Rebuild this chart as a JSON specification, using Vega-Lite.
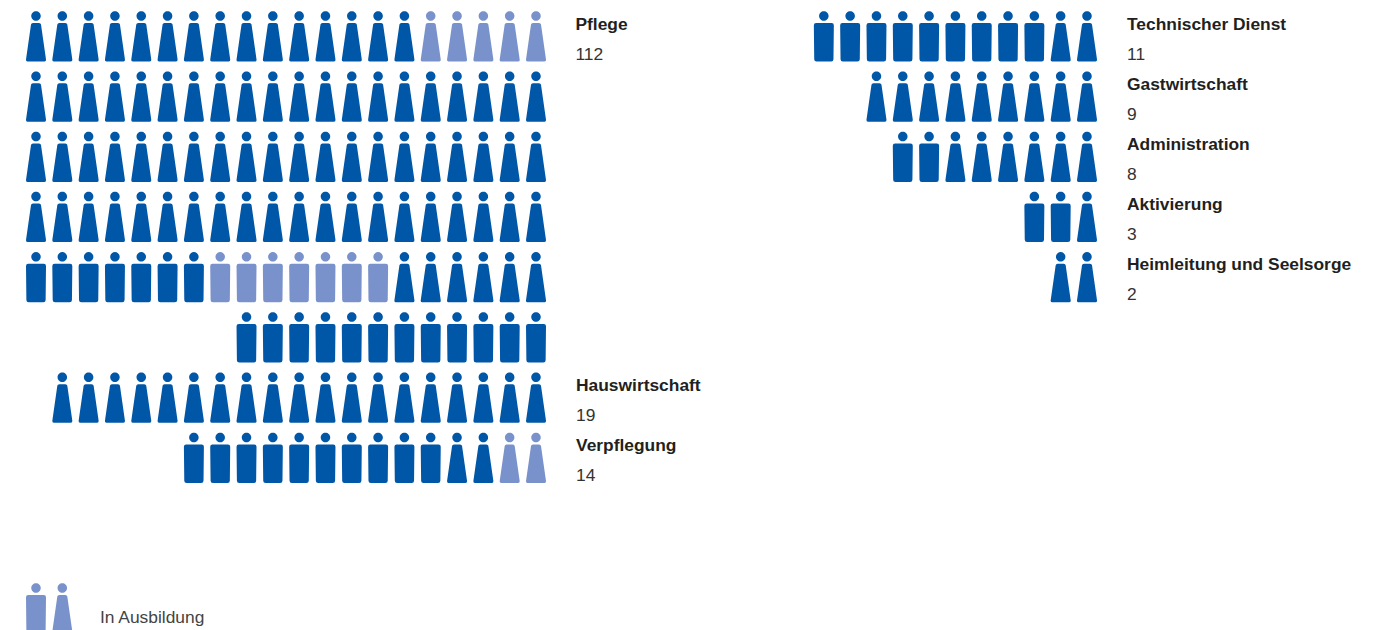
{"$schema":"https://vega.github.io/schema/vega-lite/v6.json","width":1389,"height":630,"padding":0,"autosize":{"type":"none"},"background":"white","config":{"view":{"stroke":null}},
"datasets":{"left":[
{"row":1,"col":1,"type":"dress","status":"staff"},{"row":1,"col":2,"type":"dress","status":"staff"},{"row":1,"col":3,"type":"dress","status":"staff"},{"row":1,"col":4,"type":"dress","status":"staff"},{"row":1,"col":5,"type":"dress","status":"staff"},{"row":1,"col":6,"type":"dress","status":"staff"},{"row":1,"col":7,"type":"dress","status":"staff"},{"row":1,"col":8,"type":"dress","status":"staff"},{"row":1,"col":9,"type":"dress","status":"staff"},{"row":1,"col":10,"type":"dress","status":"staff"},{"row":1,"col":11,"type":"dress","status":"staff"},{"row":1,"col":12,"type":"dress","status":"staff"},{"row":1,"col":13,"type":"dress","status":"staff"},{"row":1,"col":14,"type":"dress","status":"staff"},{"row":1,"col":15,"type":"dress","status":"staff"},{"row":1,"col":16,"type":"dress","status":"trainee"},{"row":1,"col":17,"type":"dress","status":"trainee"},{"row":1,"col":18,"type":"dress","status":"trainee"},{"row":1,"col":19,"type":"dress","status":"trainee"},{"row":1,"col":20,"type":"dress","status":"trainee"},
{"row":2,"col":1,"type":"dress","status":"staff"},{"row":2,"col":2,"type":"dress","status":"staff"},{"row":2,"col":3,"type":"dress","status":"staff"},{"row":2,"col":4,"type":"dress","status":"staff"},{"row":2,"col":5,"type":"dress","status":"staff"},{"row":2,"col":6,"type":"dress","status":"staff"},{"row":2,"col":7,"type":"dress","status":"staff"},{"row":2,"col":8,"type":"dress","status":"staff"},{"row":2,"col":9,"type":"dress","status":"staff"},{"row":2,"col":10,"type":"dress","status":"staff"},{"row":2,"col":11,"type":"dress","status":"staff"},{"row":2,"col":12,"type":"dress","status":"staff"},{"row":2,"col":13,"type":"dress","status":"staff"},{"row":2,"col":14,"type":"dress","status":"staff"},{"row":2,"col":15,"type":"dress","status":"staff"},{"row":2,"col":16,"type":"dress","status":"staff"},{"row":2,"col":17,"type":"dress","status":"staff"},{"row":2,"col":18,"type":"dress","status":"staff"},{"row":2,"col":19,"type":"dress","status":"staff"},{"row":2,"col":20,"type":"dress","status":"staff"},
{"row":3,"col":1,"type":"dress","status":"staff"},{"row":3,"col":2,"type":"dress","status":"staff"},{"row":3,"col":3,"type":"dress","status":"staff"},{"row":3,"col":4,"type":"dress","status":"staff"},{"row":3,"col":5,"type":"dress","status":"staff"},{"row":3,"col":6,"type":"dress","status":"staff"},{"row":3,"col":7,"type":"dress","status":"staff"},{"row":3,"col":8,"type":"dress","status":"staff"},{"row":3,"col":9,"type":"dress","status":"staff"},{"row":3,"col":10,"type":"dress","status":"staff"},{"row":3,"col":11,"type":"dress","status":"staff"},{"row":3,"col":12,"type":"dress","status":"staff"},{"row":3,"col":13,"type":"dress","status":"staff"},{"row":3,"col":14,"type":"dress","status":"staff"},{"row":3,"col":15,"type":"dress","status":"staff"},{"row":3,"col":16,"type":"dress","status":"staff"},{"row":3,"col":17,"type":"dress","status":"staff"},{"row":3,"col":18,"type":"dress","status":"staff"},{"row":3,"col":19,"type":"dress","status":"staff"},{"row":3,"col":20,"type":"dress","status":"staff"},
{"row":4,"col":1,"type":"dress","status":"staff"},{"row":4,"col":2,"type":"dress","status":"staff"},{"row":4,"col":3,"type":"dress","status":"staff"},{"row":4,"col":4,"type":"dress","status":"staff"},{"row":4,"col":5,"type":"dress","status":"staff"},{"row":4,"col":6,"type":"dress","status":"staff"},{"row":4,"col":7,"type":"dress","status":"staff"},{"row":4,"col":8,"type":"dress","status":"staff"},{"row":4,"col":9,"type":"dress","status":"staff"},{"row":4,"col":10,"type":"dress","status":"staff"},{"row":4,"col":11,"type":"dress","status":"staff"},{"row":4,"col":12,"type":"dress","status":"staff"},{"row":4,"col":13,"type":"dress","status":"staff"},{"row":4,"col":14,"type":"dress","status":"staff"},{"row":4,"col":15,"type":"dress","status":"staff"},{"row":4,"col":16,"type":"dress","status":"staff"},{"row":4,"col":17,"type":"dress","status":"staff"},{"row":4,"col":18,"type":"dress","status":"staff"},{"row":4,"col":19,"type":"dress","status":"staff"},{"row":4,"col":20,"type":"dress","status":"staff"},
{"row":5,"col":1,"type":"suit","status":"staff"},{"row":5,"col":2,"type":"suit","status":"staff"},{"row":5,"col":3,"type":"suit","status":"staff"},{"row":5,"col":4,"type":"suit","status":"staff"},{"row":5,"col":5,"type":"suit","status":"staff"},{"row":5,"col":6,"type":"suit","status":"staff"},{"row":5,"col":7,"type":"suit","status":"staff"},{"row":5,"col":8,"type":"suit","status":"trainee"},{"row":5,"col":9,"type":"suit","status":"trainee"},{"row":5,"col":10,"type":"suit","status":"trainee"},{"row":5,"col":11,"type":"suit","status":"trainee"},{"row":5,"col":12,"type":"suit","status":"trainee"},{"row":5,"col":13,"type":"suit","status":"trainee"},{"row":5,"col":14,"type":"suit","status":"trainee"},{"row":5,"col":15,"type":"dress","status":"staff"},{"row":5,"col":16,"type":"dress","status":"staff"},{"row":5,"col":17,"type":"dress","status":"staff"},{"row":5,"col":18,"type":"dress","status":"staff"},{"row":5,"col":19,"type":"dress","status":"staff"},{"row":5,"col":20,"type":"dress","status":"staff"},
{"row":6,"col":9,"type":"suit","status":"staff"},{"row":6,"col":10,"type":"suit","status":"staff"},{"row":6,"col":11,"type":"suit","status":"staff"},{"row":6,"col":12,"type":"suit","status":"staff"},{"row":6,"col":13,"type":"suit","status":"staff"},{"row":6,"col":14,"type":"suit","status":"staff"},{"row":6,"col":15,"type":"suit","status":"staff"},{"row":6,"col":16,"type":"suit","status":"staff"},{"row":6,"col":17,"type":"suit","status":"staff"},{"row":6,"col":18,"type":"suit","status":"staff"},{"row":6,"col":19,"type":"suit","status":"staff"},{"row":6,"col":20,"type":"suit","status":"staff"},
{"row":7,"col":2,"type":"dress","status":"staff"},{"row":7,"col":3,"type":"dress","status":"staff"},{"row":7,"col":4,"type":"dress","status":"staff"},{"row":7,"col":5,"type":"dress","status":"staff"},{"row":7,"col":6,"type":"dress","status":"staff"},{"row":7,"col":7,"type":"dress","status":"staff"},{"row":7,"col":8,"type":"dress","status":"staff"},{"row":7,"col":9,"type":"dress","status":"staff"},{"row":7,"col":10,"type":"dress","status":"staff"},{"row":7,"col":11,"type":"dress","status":"staff"},{"row":7,"col":12,"type":"dress","status":"staff"},{"row":7,"col":13,"type":"dress","status":"staff"},{"row":7,"col":14,"type":"dress","status":"staff"},{"row":7,"col":15,"type":"dress","status":"staff"},{"row":7,"col":16,"type":"dress","status":"staff"},{"row":7,"col":17,"type":"dress","status":"staff"},{"row":7,"col":18,"type":"dress","status":"staff"},{"row":7,"col":19,"type":"dress","status":"staff"},{"row":7,"col":20,"type":"dress","status":"staff"},
{"row":8,"col":7,"type":"suit","status":"staff"},{"row":8,"col":8,"type":"suit","status":"staff"},{"row":8,"col":9,"type":"suit","status":"staff"},{"row":8,"col":10,"type":"suit","status":"staff"},{"row":8,"col":11,"type":"suit","status":"staff"},{"row":8,"col":12,"type":"suit","status":"staff"},{"row":8,"col":13,"type":"suit","status":"staff"},{"row":8,"col":14,"type":"suit","status":"staff"},{"row":8,"col":15,"type":"suit","status":"staff"},{"row":8,"col":16,"type":"suit","status":"staff"},{"row":8,"col":17,"type":"dress","status":"staff"},{"row":8,"col":18,"type":"dress","status":"staff"},{"row":8,"col":19,"type":"dress","status":"trainee"},{"row":8,"col":20,"type":"dress","status":"trainee"},
{"row":10.5,"col":1,"type":"suit","status":"trainee"},{"row":10.5,"col":2,"type":"dress","status":"trainee"}
],"right":[
{"row":1,"col":1,"type":"suit","status":"staff"},{"row":1,"col":2,"type":"suit","status":"staff"},{"row":1,"col":3,"type":"suit","status":"staff"},{"row":1,"col":4,"type":"suit","status":"staff"},{"row":1,"col":5,"type":"suit","status":"staff"},{"row":1,"col":6,"type":"suit","status":"staff"},{"row":1,"col":7,"type":"suit","status":"staff"},{"row":1,"col":8,"type":"suit","status":"staff"},{"row":1,"col":9,"type":"suit","status":"staff"},{"row":1,"col":10,"type":"dress","status":"staff"},{"row":1,"col":11,"type":"dress","status":"staff"},
{"row":2,"col":3,"type":"dress","status":"staff"},{"row":2,"col":4,"type":"dress","status":"staff"},{"row":2,"col":5,"type":"dress","status":"staff"},{"row":2,"col":6,"type":"dress","status":"staff"},{"row":2,"col":7,"type":"dress","status":"staff"},{"row":2,"col":8,"type":"dress","status":"staff"},{"row":2,"col":9,"type":"dress","status":"staff"},{"row":2,"col":10,"type":"dress","status":"staff"},{"row":2,"col":11,"type":"dress","status":"staff"},
{"row":3,"col":4,"type":"suit","status":"staff"},{"row":3,"col":5,"type":"suit","status":"staff"},{"row":3,"col":6,"type":"dress","status":"staff"},{"row":3,"col":7,"type":"dress","status":"staff"},{"row":3,"col":8,"type":"dress","status":"staff"},{"row":3,"col":9,"type":"dress","status":"staff"},{"row":3,"col":10,"type":"dress","status":"staff"},{"row":3,"col":11,"type":"dress","status":"staff"},
{"row":4,"col":9,"type":"suit","status":"staff"},{"row":4,"col":10,"type":"suit","status":"staff"},{"row":4,"col":11,"type":"dress","status":"staff"},
{"row":5,"col":10,"type":"dress","status":"staff"},{"row":5,"col":11,"type":"dress","status":"staff"}
],"labelsLeft":[
{"row":1,"col":21.5,"name":"Pflege","count":"112"},{"row":7,"col":21.52,"name":"Hauswirtschaft","count":"19"},{"row":8,"col":21.52,"name":"Verpflegung","count":"14"}
],"labelsRight":[
{"row":1,"col":12.52,"name":"Technischer Dienst","count":"11"},{"row":2,"col":12.52,"name":"Gastwirtschaft","count":"9"},{"row":3,"col":12.52,"name":"Administration","count":"8"},{"row":4,"col":12.52,"name":"Aktivierung","count":"3"},{"row":5,"col":12.52,"name":"Heimleitung und Seelsorge","count":"2"}
]},
"encoding":{"y":{"field":"row","type":"quantitative","axis":null,"scale":{"domain":[0.402,10.867],"nice":false,"zero":false,"reverse":true}}},
"layer":[
{"data":{"name":"left"},"mark":{"type":"point","filled":true,"opacity":1,"size":2500,"strokeWidth":0},
"encoding":{"x":{"field":"col","type":"quantitative","axis":null,"scale":{"domain":[-0.368,52.414],"nice":false,"zero":false}},
"shape":{"field":"type","type":"nominal","legend":null,"scale":{"domain":["dress","suit"],"range":["M-0.19,-0.8A0.19,0.19 0 1,1 0.19,-0.8A0.19,0.19 0 1,1 -0.19,-0.8ZM-0.12,-0.52L0.12,-0.52Q0.19,-0.52 0.2,-0.46L0.4,0.94Q0.41,1.02 0.34,1.02L-0.34,1.02Q-0.41,1.02 -0.4,0.94L-0.2,-0.46Q-0.19,-0.52 -0.12,-0.52Z","M-0.19,-0.8A0.19,0.19 0 1,1 0.19,-0.8A0.19,0.19 0 1,1 -0.19,-0.8ZM-0.31,-0.52L0.31,-0.52Q0.4,-0.52 0.4,-0.43L0.385,0.93Q0.385,1.02 0.29,1.02L-0.29,1.02Q-0.385,1.02 -0.385,0.93L-0.4,-0.43Q-0.4,-0.52 -0.31,-0.52Z"]}},
"color":{"field":"status","type":"nominal","legend":null,"scale":{"domain":["staff","trainee"],"range":["#0057a8","#7a92cc"]}}}},
{"data":{"name":"right"},"mark":{"type":"point","filled":true,"opacity":1,"size":2500,"strokeWidth":0},
"encoding":{"x":{"field":"col","type":"quantitative","axis":null,"scale":{"domain":[-30.306,22.476],"nice":false,"zero":false}},
"shape":{"field":"type","type":"nominal","legend":null,"scale":{"domain":["dress","suit"],"range":["M-0.19,-0.8A0.19,0.19 0 1,1 0.19,-0.8A0.19,0.19 0 1,1 -0.19,-0.8ZM-0.12,-0.52L0.12,-0.52Q0.19,-0.52 0.2,-0.46L0.4,0.94Q0.41,1.02 0.34,1.02L-0.34,1.02Q-0.41,1.02 -0.4,0.94L-0.2,-0.46Q-0.19,-0.52 -0.12,-0.52Z","M-0.19,-0.8A0.19,0.19 0 1,1 0.19,-0.8A0.19,0.19 0 1,1 -0.19,-0.8ZM-0.31,-0.52L0.31,-0.52Q0.4,-0.52 0.4,-0.43L0.385,0.93Q0.385,1.02 0.29,1.02L-0.29,1.02Q-0.385,1.02 -0.385,0.93L-0.4,-0.43Q-0.4,-0.52 -0.31,-0.52Z"]}},
"color":{"field":"status","type":"nominal","legend":null,"scale":{"domain":["staff","trainee"],"range":["#0057a8","#7a92cc"]}}}},
{"data":{"name":"labelsLeft"},"mark":{"type":"text","align":"left","baseline":"middle","font":"Liberation Sans","fontWeight":"bold","fontSize":17.4,"color":"#231f20","yOffset":-11.5},
"encoding":{"x":{"field":"col","type":"quantitative","axis":null,"scale":{"domain":[-0.368,52.414],"nice":false,"zero":false}},"text":{"field":"name"}}},
{"data":{"name":"labelsLeft"},"mark":{"type":"text","align":"left","baseline":"middle","font":"Liberation Sans","fontSize":17.4,"color":"#333333","yOffset":18.5},
"encoding":{"x":{"field":"col","type":"quantitative","axis":null,"scale":{"domain":[-0.368,52.414],"nice":false,"zero":false}},"text":{"field":"count"}}},
{"data":{"name":"labelsRight"},"mark":{"type":"text","align":"left","baseline":"middle","font":"Liberation Sans","fontWeight":"bold","fontSize":17.4,"color":"#231f20","yOffset":-11.5},
"encoding":{"x":{"field":"col","type":"quantitative","axis":null,"scale":{"domain":[-30.306,22.476],"nice":false,"zero":false}},"text":{"field":"name"}}},
{"data":{"name":"labelsRight"},"mark":{"type":"text","align":"left","baseline":"middle","font":"Liberation Sans","fontSize":17.4,"color":"#333333","yOffset":18.5},
"encoding":{"x":{"field":"col","type":"quantitative","axis":null,"scale":{"domain":[-30.306,22.476],"nice":false,"zero":false}},"text":{"field":"count"}}},
{"data":{"values":[{"row":10.5,"col":3.43,"note":"In Ausbildung"}]},"mark":{"type":"text","align":"left","baseline":"middle","font":"Liberation Sans","fontSize":17.4,"color":"#444444","yOffset":10},
"encoding":{"x":{"field":"col","type":"quantitative","axis":null,"scale":{"domain":[-0.368,52.414],"nice":false,"zero":false}},"text":{"field":"note"}}}
],
"resolve":{"scale":{"x":"independent","shape":"independent","color":"independent"}}}
